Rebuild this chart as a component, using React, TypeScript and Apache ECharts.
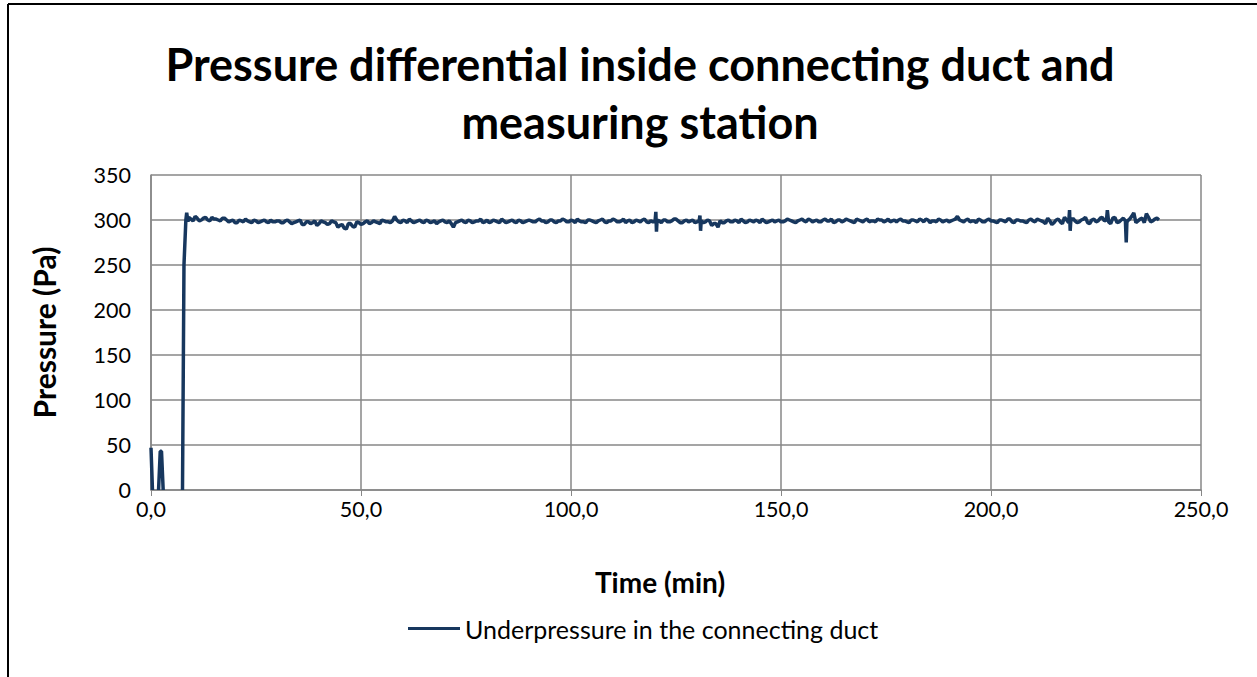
import React, { useEffect, useRef } from "react";
import * as echarts from "echarts";

const seriesName = "Underpressure in the connecting duct";
const titleText = "Pressure differential inside connecting duct and\nmeasuring station";
const xAxisName = "Time (min)";
const yAxisName = "Pressure (Pa)";

// start-up phase: [minute, Pa]; null = no reading (gap)
const startPhase: [number, number | null][] = [
  [0, 47], [0.35, 0], [1, null], [1.8, 0], [2.2, 43], [2.5, 43], [2.9, 0], [5, null],
  [7.5, 0], [7.85, 250], [8.3, 300], [8.5, 308], [8.8, 298],
];

// steady phase, one value per whole minute from minute 9 to 240
const steadyStart = 9;
const steadyValues: number[] = [
  303, 299, 302, 300, 303, 299, 301, 300, 302, 300, // 9-18
  299, 297, 300, 298, 299, 297, 299, 298, 300, 297, 298, 299, 297, 299, 298, // 19-33
  297, 299, 295, 298, 296, 299, 296, 298, 295, 299, // 34-43
  297, 294, 291, 296, 293, 298, 295, // 44-50
  298, 296, 299, 297, 300, 298, 297, // 51-57
  304, // 58
  298, 300, 297, 299, 298, 300, 297, 299, 298, 296, 299, 298, // 59-70
  299, 292, // 71-72
  298, 300, 297, 299, 298, 299, 297, 300, 298, 299, 297, 299, 298, 300, 297, 299, 298, 300, // 73-90
  298, 300, 299, 297, 300, 298, 299, 301, 298, 300, 297, 299, 298, 300, 299, 297, 300, 298, 299, 301, 298, 299, 297, 300, 298, 299, 300, 298, 299, // 91-119
  298, // 120
  299, 300, 298, 299, 301, 297, 299, 298, 300, 298, // 121-130
  299, 298, 299, 296, 292, 297, // 131-136
  299, 298, 300, 297, 299, 298, 299, 300, 297, 299, 298, 300, 299, 298, // 137-150
  299, 300, 298, 299, 301, 298, 300, 299, 298, 300, 299, 301, 298, 300, 299, 300, 298, 301, 299, 300, 298, 299, 301, 300, 299, 298, 300, // 151-177
  300, 299, 298, 300, 299, 301, 298, 300, 299, 298, 300, 299, 298, 300, // 178-191
  304, 299, // 192-193
  300, 298, 299, 301, 298, 300, 299, 298, 300, 299, 301, 298, 300, 299, 298, 300, 299, 301, 299, // 194-212
  296, 299, 297, 301, 296, 300, // 213-218
  299, 299, 298, 301, 297, 300, 298, 302, 299, // 219-227
  298, 302, 297, 300, 299, // 228-232
  301, 308, 299, 302, 307, 298, 301, 300, // 233-240
];

// steady phase, one value per half minute from minute 9.5 to 239.5
const halfStart = 9.5;
const halfValues: number[] = [
  301, 304, 299, 302, 300, 303, 301, 299, 302, // 9.5-17.5
  298, 300, 297, 299, 301, 298, 300, 297, 299, 298, 300, 298, 299, 297, 300, // 18.5-32.5
  296, 298, 300, 295, 298, 297, 294, 299, 297, 296, // 33.5-42.5
  298, 292, 295, 290, 296, 292, 297, // 43.5-49.5
  296, 299, 297, 298, 296, 299, 298, // 50.5-56.5
  299, // 57.5
  300, 297, 299, 301, 297, 299, 298, 300, 297, 299, 298, 300, // 58.5-69.5
  297, 296, // 70.5-71.5
  297, 299, 298, 300, 297, 299, 301, 298, 297, 300, 298, 301, 297, 299, 298, 300, 297, 299, // 72.5-89.5
  299, 298, 301, 299, 298, 300, 297, 299, 300, 298, 299, 301, 298, 297, 300, 298, 299, 301, 297, 299, 300, 298, 301, 299, 297, 300, 298, 301, 297, // 90.5-118.5
  298, // 119.5
  300, // 120.5
  297, 300, 298, 301, 299, 297, 300, 299, 297, // 121.5-129.5
  299, // 130.5
  297, 300, 294, 296, 299, // 131.5-135.5
  297, 300, 298, 299, 301, 297, 300, 298, 299, 301, 297, 299, 298, 300, // 136.5-149.5
  298, 301, 299, 297, 300, 299, 301, 298, 300, 298, 301, 299, 297, 300, 298, 301, 299, 297, 300, 298, 301, 299, 298, 300, 298, 301, 299, // 150.5-176.5
  298, 301, 299, 297, 300, 298, 300, 301, 297, 299, 301, 298, 300, 299, // 177.5-190.5
  301, 300, // 191.5-192.5
  298, 301, 299, 297, 300, 298, 301, 299, 297, 300, 298, 301, 297, 300, 299, 297, 301, 298, 300, // 193.5-211.5
  298, 302, 295, 300, 298, 303, // 212.5-217.5
  297, // 218.5
  302, 297, 300, 303, 296, 301, 299, 303, // 219.5-226.5
  300, 296, 303, 298, 302, // 227.5-231.5
  299, 304, 297, 301, 297, 303, 299, 302, // 232.5-239.5
];

// sharp spikes between samples: [minute, Pa]
const spikes: [number, number][] = [
  [120.2, 309], [120.35, 287],
  [130.7, 305], [130.85, 288],
  [218.7, 311], [218.85, 288],
  [227.7, 311],
  [232.2, 275], [232.35, 297],
];

const xTicks = { min: 0, max: 250, interval: 50 };
const yTicks = { min: 0, max: 350, interval: 50 };

function buildData(): [number, number | null][] {
  const pts: [number, number | null][] = [...startPhase];
  steadyValues.forEach((v, i) => pts.push([steadyStart + i, v]));
  halfValues.forEach((v, i) => pts.push([halfStart + i, v]));
  spikes.forEach((p) => pts.push(p));
  pts.sort((a, b) => a[0] - b[0]);
  return pts;
}

const FONT = "Lato, 'Open Sans', sans-serif";
const GRID = "#878787";
const LINE = "#17375E";

export default function App() {
  const ref = useRef<HTMLDivElement>(null);
  useEffect(() => {
    if (!ref.current) return;
    const chart = echarts.init(ref.current, undefined, { renderer: "svg" });
    chart.setOption({
      animation: false,
      backgroundColor: "#ffffff",
      textStyle: { fontFamily: FONT },
      title: {
        text: titleText,
        left: 635,
        textAlign: "center",
        top: 30,
        textStyle: {
          fontFamily: FONT,
          fontSize: 45,
          fontWeight: "bold",
          color: "#000",
          lineHeight: 58,
        },
      },
      graphic: [
        { type: "line", shape: { x1: 8, y1: 4, x2: 1257, y2: 4 }, style: { stroke: "#000", lineWidth: 2 } },
        { type: "line", shape: { x1: 8, y1: 4, x2: 8, y2: 677 }, style: { stroke: "#000", lineWidth: 2 } },
      ],
      grid: { left: 151, right: 56, top: 175, bottom: 187, containLabel: false },
      legend: {
        left: 403,
        top: 611,
        itemWidth: 52,
        itemHeight: 3,
        itemGap: 6,
        icon: "rect",
        data: [seriesName],
        textStyle: { fontFamily: FONT, fontSize: 25, color: "#000" },
      },
      xAxis: {
        type: "value",
        min: xTicks.min,
        max: xTicks.max,
        interval: xTicks.interval,
        name: xAxisName,
        nameLocation: "middle",
        nameGap: 78,
        nameTextStyle: {
          fontFamily: FONT,
          fontSize: 28,
          fontWeight: "bold",
          color: "#000",
          padding: [0, 32, 0, 0],
        },
        axisLine: { show: true, lineStyle: { color: GRID, width: 1.5 } },
        axisTick: { show: true, length: 6, lineStyle: { color: GRID } },
        splitLine: { show: true, lineStyle: { color: GRID, width: 1.5 } },
        axisLabel: {
          fontFamily: FONT,
          fontSize: 21.5,
          color: "#000",
          margin: 8,
          formatter: (v: number) => v.toFixed(1).replace(".", ","),
        },
      },
      yAxis: {
        type: "value",
        min: yTicks.min,
        max: yTicks.max,
        interval: yTicks.interval,
        name: yAxisName,
        nameLocation: "middle",
        nameGap: 92,
        nameTextStyle: { fontFamily: FONT, fontSize: 30, fontWeight: "bold", color: "#000" },
        axisLine: { show: true, lineStyle: { color: GRID, width: 1.5 } },
        axisTick: { show: false },
        splitLine: { show: true, lineStyle: { color: GRID, width: 1.5 } },
        axisLabel: { fontFamily: FONT, fontSize: 21.5, color: "#000", margin: 20 },
      },
      series: [
        {
          name: seriesName,
          type: "line",
          data: buildData(),
          showSymbol: false,
          symbol: "none",
          connectNulls: false,
          lineStyle: { color: LINE, width: 3.5 },
          itemStyle: { color: LINE },
        },
      ],
    });
    return () => chart.dispose();
  }, []);
  return <div ref={ref} style={{ width: 1257, height: 677, position: "absolute", left: 0, top: 0 }} />;
}
